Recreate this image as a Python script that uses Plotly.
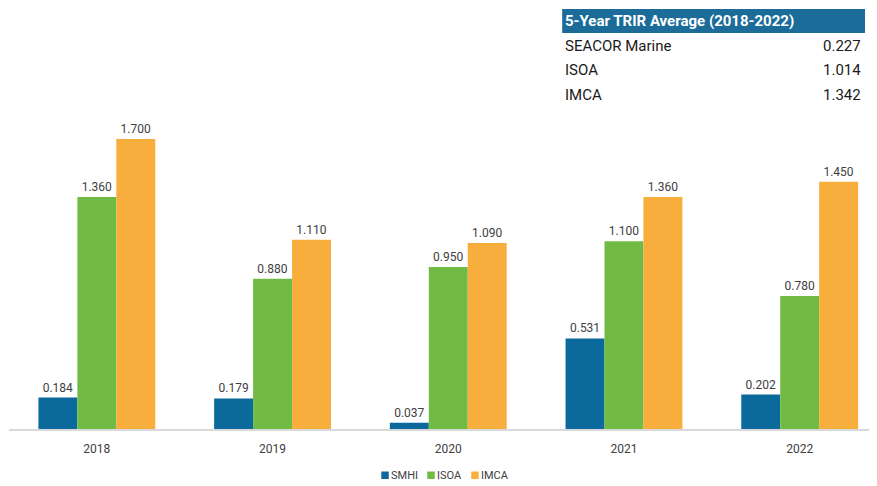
import plotly.graph_objects as go

years = ["2018", "2019", "2020", "2021", "2022"]
smhi = [0.184, 0.179, 0.037, 0.531, 0.202]
isoa = [1.360, 0.880, 0.950, 1.100, 0.780]
imca = [1.700, 1.110, 1.090, 1.360, 1.450]
series_names = ["SMHI", "ISOA", "IMCA"]
series_colors = ["#0B6A9B", "#71BB44", "#F8AE3D"]

table_title = "5-Year TRIR Average (2018-2022)"
table_labels = ["SEACOR Marine", "ISOA", "IMCA"]
table_values = ["0.227", "1.014", "1.342"]

# page has an 8px body margin, so figure is drawn offset by (8, 8)
OFF = 8
W, H = 869, 478
ml, mr, mt, mb = 0.5, 0, 2, 57
PW, PH = W - ml - mr, H - mt - mb


def sx(px):  # screen x -> paper x
    return (px - OFF - ml) / PW


def sy(py):  # screen y -> paper y
    return (H - mb - (py - OFF)) / PH


fig = go.Figure()
for name, vals, col in zip(series_names, [smhi, isoa, imca], series_colors):
    fig.add_trace(go.Bar(
        x=years, y=vals, name=name, marker=dict(color=col, line=dict(width=0)),
        text=[f"{v:.3f}" for v in vals], textposition="outside",
        textfont=dict(size=12, color="#404040", family="Roboto"),
        cliponaxis=False, showlegend=False,
    ))

shapes = [dict(type="rect", xref="paper", yref="paper",
               x0=sx(562), x1=sx(865), y0=sy(33), y1=sy(9),
               fillcolor="#1B6C99", line=dict(width=0), layer="above")]
annotations = [dict(text=f"<b>{table_title}</b>", xref="paper", yref="paper",
                    x=sx(563), y=sy(21), xanchor="left", yanchor="middle",
                    showarrow=False, font=dict(size=15, color="white", family="Roboto"))]
row_y = [46, 70.5, 94.5]
for lab, val, ry in zip(table_labels, table_values, row_y):
    annotations.append(dict(text=lab, xref="paper", yref="paper", x=sx(563), y=sy(ry),
                            xanchor="left", yanchor="middle", showarrow=False,
                            font=dict(size=15, color="#1a1a1a", family="Roboto")))
    annotations.append(dict(text=val, xref="paper", yref="paper", x=sx(863), y=sy(ry),
                            xanchor="right", yanchor="middle", showarrow=False,
                            font=dict(size=15, color="#1a1a1a", family="Roboto")))

# custom compact legend below the axis
leg_sq_x = [381, 427, 471]
for name, col, lx in zip(series_names, series_colors, leg_sq_x):
    shapes.append(dict(type="rect", xref="paper", yref="paper",
                       x0=sx(lx), x1=sx(lx + 7.5), y0=sy(479), y1=sy(471.5),
                       fillcolor=col, line=dict(width=0)))
    annotations.append(dict(text=name, xref="paper", yref="paper", x=sx(lx + 8), y=sy(475.5),
                            xanchor="left", yanchor="middle", showarrow=False,
                            font=dict(size=11, color="#404040", family="Roboto")))

fig.update_layout(
    width=W, height=H,
    margin=dict(l=ml, r=mr, t=mt, b=mb, autoexpand=False),
    paper_bgcolor="white", plot_bgcolor="white",
    barmode="group", bargap=0.335, bargroupgap=0,
    font=dict(family="Roboto", color="#404040"),
    showlegend=False,
    xaxis=dict(type="category", range=[-0.5, 4.44], showline=True, linecolor="#D9D9D9",
               linewidth=2, ticks="", showgrid=False,
               tickfont=dict(size=12, color="#404040", family="Roboto"),
               ticklabelstandoff=8),
    yaxis=dict(range=[0, 2.456], visible=False, showgrid=False, zeroline=False),
    shapes=shapes, annotations=annotations,
)

fig.write_html("out.html")
